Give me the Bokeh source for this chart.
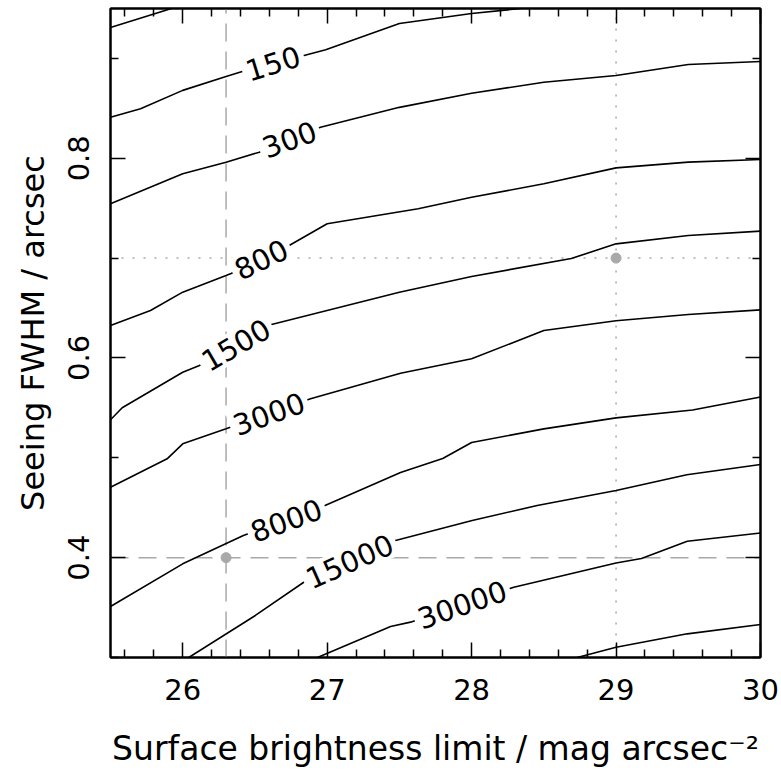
import math
from bokeh.plotting import figure
from bokeh.models import ColumnDataSource, FixedTicker, LinearAxis, Range1d
from bokeh.core.properties import value
from bokeh.embed import file_html
from bokeh.resources import INLINE

# ---- axes / ticks ----
x_major = [26, 27, 28, 29, 30]
x_minor = [25.6, 25.8, 26.2, 26.4, 26.6, 26.8, 27.2, 27.4, 27.6, 27.8,
           28.2, 28.4, 28.6, 28.8, 29.2, 29.4, 29.6, 29.8]
y_major = [0.4, 0.6, 0.8]
y_minor = [0.3, 0.5, 0.7, 0.9]
x_title = "Surface brightness limit / mag arcsec\u207b\u00b2"
y_title = "Seeing FWHM / arcsec"

# ---- reference markers ----
ref_dashed_x = 26.3
ref_dashed_y = 0.4
ref_dotted_x = 29.0
ref_dotted_y = 0.7

# ---- contour lines (surface brightness, seeing) ----
c80_x = [25.5, 25.922]
c80_y = [0.931, 0.950]

c150_x = [25.5, 25.708, 26.0, 26.3, 26.412, 26.84, 26.99, 27.5, 28.0, 28.34]
c150_y = [0.841, 0.8495, 0.868, 0.882, 0.887, 0.903, 0.9086, 0.935, 0.945, 0.950]

c300_x = [25.5, 26.0, 26.3, 26.53, 26.954, 27.5, 28.0, 28.5, 29.0, 29.5, 30.0]
c300_y = [0.7544, 0.7844, 0.7961, 0.8061, 0.8311, 0.851, 0.8651, 0.8762, 0.8829, 0.8939, 0.8969]

c800_x = [25.5, 25.777, 26.0, 26.3, 26.335, 26.74, 27.0, 27.63, 28.0, 28.5, 29.0, 29.5, 30.0]
c800_y = [0.6325, 0.6475, 0.6659, 0.6826, 0.6846, 0.7129, 0.7344, 0.7494, 0.761, 0.7744, 0.7904, 0.7961, 0.7988]

c1500_x = [25.5, 25.581, 26.0, 26.116, 26.615, 27.5, 28.0, 28.69, 29.0, 29.5, 30.0]
c1500_y = [0.5381, 0.5501, 0.5857, 0.5924, 0.6335, 0.6658, 0.6816, 0.6996, 0.7143, 0.7226, 0.727]

c3000_x = [25.5, 25.892, 26.0, 26.3, 26.885, 27.508, 28.0, 28.5, 29.0, 29.5, 30.0]
c3000_y = [0.4706, 0.499, 0.514, 0.529, 0.5591, 0.5847, 0.5992, 0.6275, 0.6372, 0.6435, 0.6482]

c8000_x = [25.5, 26.0, 26.42, 26.985, 27.508, 27.8, 28.0, 28.5, 29.0, 29.53, 30.0]
c8000_y = [0.3511, 0.3938, 0.4222, 0.4522, 0.4853, 0.4993, 0.5153, 0.529, 0.54, 0.5479, 0.5609]

c15000_x = [26.042, 26.503, 26.838, 27.473, 28.004, 28.454, 29.0, 29.49, 30.0]
c15000_y = [0.300, 0.3421, 0.3754, 0.4172, 0.4372, 0.4522, 0.4672, 0.483, 0.4933]

c30000_x = [26.933, 27.439, 27.577, 28.292, 29.0, 29.176, 29.493, 30.0]
c30000_y = [0.300, 0.331, 0.3354, 0.3704, 0.3946, 0.3992, 0.4165, 0.4247]

c60000_x = [28.731, 29.0, 29.493, 30.0]
c60000_y = [0.300, 0.3103, 0.3237, 0.3331]

# ---- contour labels ----
label_text = ["150", "300", "800", "1500", "3000", "8000", "15000", "30000"]
label_x = [26.625, 26.739, 26.544, 26.369, 26.597, 26.718, 27.156, 27.935]
label_y = [0.8949, 0.8188, 0.6986, 0.6130, 0.5440, 0.4372, 0.3962, 0.3529]
label_angle = [17, 20, 26, 30, 20, 20, 24, 19]

GREY = "#a9a9a9"
FONT = "DejaVu Sans"

p = figure(width=781, height=774, x_range=Range1d(25.5, 30.0), y_range=Range1d(0.3, 0.95),
           output_backend="svg", toolbar_location=None,
           min_border_left=110, min_border_right=21, min_border_top=8, min_border_bottom=117,
           background_fill_color="white", border_fill_color="white")
p.grid.visible = False
p.outline_line_color = "black"
p.outline_line_width = 2

bottom_axis = p.below[0]
left_axis = p.left[0]
top_axis = LinearAxis()
right_axis = LinearAxis()
p.add_layout(top_axis, "above")
p.add_layout(right_axis, "right")

for ax in [bottom_axis, top_axis]:
    ax.ticker = FixedTicker(ticks=x_major, minor_ticks=x_minor)
for ax in [left_axis, right_axis]:
    ax.ticker = FixedTicker(ticks=y_major, minor_ticks=y_minor)

for ax in [bottom_axis, top_axis, left_axis, right_axis]:
    ax.major_tick_in = 15
    ax.major_tick_out = 0
    ax.minor_tick_in = 8
    ax.minor_tick_out = 0
    ax.major_tick_line_color = "black"
    ax.minor_tick_line_color = "black"
    ax.major_tick_line_width = 1.5
    ax.minor_tick_line_width = 1.5
    ax.axis_line_color = "black"
    ax.axis_line_width = 2
    ax.major_label_text_font = FONT
    ax.major_label_text_font_size = "29px"
    ax.major_label_text_color = "black"

for ax in [top_axis, right_axis]:
    ax.major_label_text_font_size = "1px"
    ax.major_label_text_color = None
    ax.major_label_standoff = 0

bottom_axis.major_label_standoff = 21
left_axis.major_label_standoff = 21
left_axis.major_label_orientation = "parallel"

bottom_axis.axis_label = x_title
left_axis.axis_label = y_title
for ax in [bottom_axis, left_axis]:
    ax.axis_label_text_font = FONT
    ax.axis_label_text_font_size = "32px"
    ax.axis_label_text_font_style = "normal"
    ax.axis_label_text_color = "black"
bottom_axis.axis_label_text_font_size = "33px"
bottom_axis.axis_label_standoff = 26
left_axis.axis_label_standoff = 14

# reference lines
p.line([ref_dashed_x, ref_dashed_x], [0.3, 0.95], line_color=GREY, line_width=1.5, line_dash="18 10")
p.line([25.5, 30.0], [ref_dashed_y, ref_dashed_y], line_color=GREY, line_width=1.5, line_dash="18 10")
p.line([ref_dotted_x, ref_dotted_x], [0.3, 0.95], line_color=GREY, line_width=1.5, line_dash="2 9")
p.line([25.5, 30.0], [ref_dotted_y, ref_dotted_y], line_color=GREY, line_width=1.5, line_dash="2 9")
p.scatter([ref_dashed_x, ref_dotted_x], [ref_dashed_y, ref_dotted_y], size=10,
          fill_color=GREY, line_color=GREY)

# contours
xs = [c80_x, c150_x, c300_x, c800_x, c1500_x, c3000_x, c8000_x, c15000_x, c30000_x, c60000_x]
ys = [c80_y, c150_y, c300_y, c800_y, c1500_y, c3000_y, c8000_y, c15000_y, c30000_y, c60000_y]
p.multi_line(xs, ys, line_color="black", line_width=1.6)

# contour labels
lsrc = ColumnDataSource(dict(x=label_x, y=label_y, text=label_text,
                             angle=[math.radians(a) for a in label_angle]))
p.text(x="x", y="y", text="text", angle="angle", source=lsrc,
       text_font=value(FONT), text_font_size="29px", text_color="black",
       text_align="center", text_baseline="middle",
       background_fill_color="white", padding=4)

open("out.html", "w").write(file_html(p, INLINE))
